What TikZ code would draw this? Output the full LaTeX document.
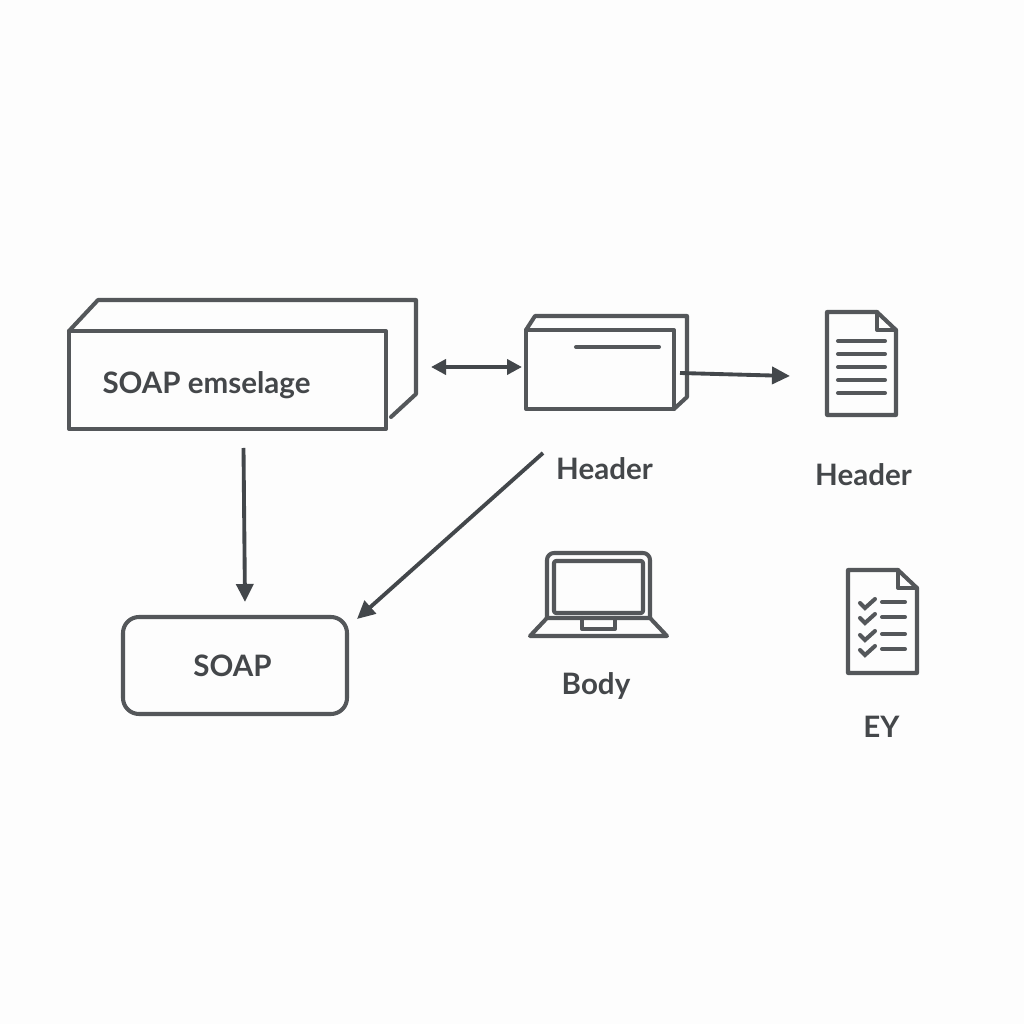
\documentclass[tikz,border=0pt]{standalone}
\usepackage{fontspec}
\setmainfont{Lato}
\usetikzlibrary{arrows.meta}
\definecolor{inkgray}{HTML}{54575A}
\definecolor{arrowgray}{HTML}{43474B}
\definecolor{textgray}{HTML}{44474A}
\definecolor{paper}{HTML}{FDFDFD}
\tikzset{
	outline/.style={draw=inkgray, line width=1.15pt, line join=round, line cap=round},
	box/.style={outline, rectangle, outer sep=0pt, inner sep=0pt},
	rule/.style={draw=inkgray, line width=1.15pt, line cap=round},
	link/.style={draw=arrowgray, line width=1.1pt, -{Triangle[length=.18cm, width=.17cm]}},
	tag/.style={text=textgray, font=\bfseries\fontsize{8.4pt}{10pt}\selectfont, inner sep=0pt},
}
\begin{document}
\begin{tikzpicture}
	\fill[paper] (0,0) rectangle (10.24,10.24);
	\useasboundingbox (0,0) rectangle (10.24,10.24);

	% boxes
	\node[box, minimum width=3.17cm, minimum height=.98cm] (msg) at (2.275, 6.44) {};
	\node[box, minimum width=1.48cm, minimum height=.79cm] (hdr) at (6.00, 6.545) {};
	\node[box, rounded corners=.16cm, minimum width=2.24cm, minimum height=.97cm] (soap) at (2.35, 3.585) {};

	% depth of the two blocks
	\draw[outline] (msg.north west) -- (.98, 7.24) -- (4.16, 7.24) -- (4.16, 6.30) -- (3.91, 6.07);
	\draw[outline] (hdr.north west) -- (5.35, 7.08) -- (6.87, 7.08) -- (6.87, 6.27) -- (hdr.south east);
	\draw[rule] (5.76, 6.77) -- (6.59, 6.77);

	% labels
	\node[tag] (msgtext) at (2.065, 6.385) {SOAP emselage};
	\node[tag] (soaptext) at (2.325, 3.585) {SOAP};
	\node[tag] (hdrtext) at (6.045, 5.555) {Header};
	\node[tag] (doctext) at (8.635, 5.495) {Header};
	\node[tag] (bodytext) at (5.96, 3.375) {Body};
	\node[tag] (eytext) at (8.815, 2.97) {EY};

	% plain document
	\draw[outline] (8.27, 7.12) -- (8.77, 7.12) -- (8.96, 6.94) -- (8.96, 6.09) -- (8.27, 6.09) -- cycle;
	\draw[outline] (8.77, 7.12) -- (8.77, 6.94) -- (8.96, 6.94);
	\foreach \y in {6.83, 6.70, 6.57, 6.44, 6.31}
		\draw[rule] (8.38, \y) -- (8.85, \y);

	% document with ticks
	\draw[outline] (8.48, 4.54) -- (8.98, 4.54) -- (9.17, 4.36) -- (9.17, 3.51) -- (8.48, 3.51) -- cycle;
	\draw[outline] (8.98, 4.54) -- (8.98, 4.36) -- (9.17, 4.36);
	\foreach \y in {4.22, 4.07, 3.90, 3.75} {
		\draw[rule] (8.82, \y) -- (9.05, \y);
		\draw[rule] (8.60, \y-.01) -- (8.65, \y-.06) -- (8.75, \y+.03);
	}

	% laptop
	\draw[outline, rounded corners=.07cm] (5.47, 4.06) -- (5.47, 4.71) -- (6.50, 4.71) -- (6.50, 4.06);
	\draw[outline, rounded corners=.02cm] (5.54, 4.63) rectangle (6.43, 4.11);
	\draw[outline] (5.47, 4.06) -- (6.50, 4.06) -- (6.67, 3.88) -- (5.30, 3.88) -- cycle;
	\draw[outline] (5.82, 4.06) -- (5.82, 3.95) -- (6.15, 3.95) -- (6.15, 4.06);

	% arrows
	\coordinate (backside) at (4.31, 6.57);
	\coordinate (hdrside) at (5.22, 6.57);
	\coordinate (diagstart) at (5.43, 5.71);
	\coordinate (diagend) at (3.57, 4.05);
	\coordinate (docside) at (7.90, 6.48);
	\draw[link, {Triangle[length=.15cm, width=.15cm]}-{Triangle[length=.15cm, width=.15cm]}] (backside) -- (hdrside);
	\draw[link] (6.80, 6.51) -- (docside);
	\draw[link] ([xshift=.16cm, yshift=-.19cm]msg.south) -- ([xshift=.10cm, yshift=.15cm]soap.north);
	\draw[link] (diagstart) -- (diagend);
\end{tikzpicture}
\end{document}
